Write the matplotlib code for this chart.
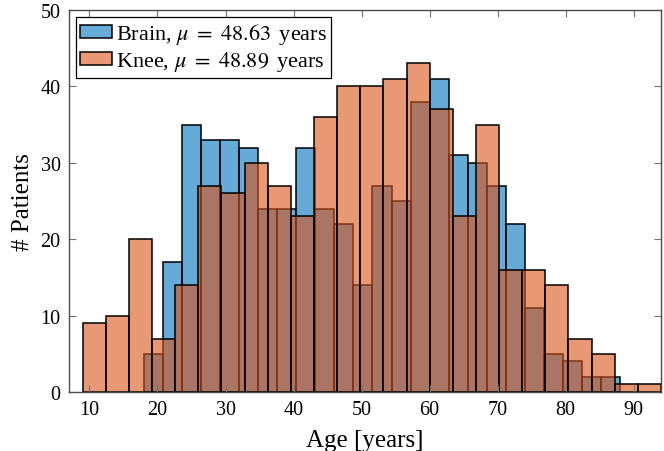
import numpy as np
import matplotlib.pyplot as plt

# histogram counts (25 bins each)
brain_range = (18, 88)
brain_counts = [5, 17, 35, 33, 33, 32, 24, 24, 32, 24, 22, 14, 27, 25, 38,
                41, 31, 30, 27, 22, 11, 5, 4, 2, 2]
knee_range = (9, 94)
knee_counts = [9, 10, 20, 7, 14, 27, 26, 30, 27, 23, 36, 40, 40, 41, 43,
               37, 23, 35, 16, 16, 14, 7, 5, 1, 1]
labels = [r"Brain, $\mu\ =\ 48.63\,$ years", r"Knee, $\mu\ =\ 48.89\,$ years"]

plt.rcParams["font.family"] = ["Liberation Serif", "DejaVu Serif"]
plt.rcParams["mathtext.fontset"] = "stix"

blue = (0.0, 0.447, 0.741, 0.6)
orange = (0.85, 0.325, 0.098, 0.6)

fig = plt.figure(figsize=(6.64, 4.52), dpi=100)
ax = fig.add_axes([69 / 664, 1 - 393 / 452, 592 / 664, 382 / 452])

for rng, counts, col, lab in [(brain_range, brain_counts, blue, labels[0]),
                              (knee_range, knee_counts, orange, labels[1])]:
    edges = np.linspace(rng[0], rng[1], len(counts) + 1)
    ax.hist(edges[:-1], bins=edges, weights=counts, facecolor=col,
            edgecolor="black", linewidth=1.1, label=lab)

ax.set_xlim(7, 94)
ax.set_ylim(0, 50)
ax.set_xticks(range(10, 100, 10))
ax.set_yticks(range(0, 60, 10))
ax.tick_params(direction="in", length=5, width=0.8, color="0.45",
               top=True, right=True, labelsize=14.5, pad=6)
for s in ax.spines.values():
    s.set_color("0.3")
    s.set_linewidth(1.0)

ax.set_xlabel("Age [years]", fontsize=18, labelpad=7)
ax.set_ylabel("# Patients", fontsize=18, labelpad=5)

leg = ax.legend(loc="upper left", fontsize=16, frameon=True, fancybox=False,
                edgecolor="black", framealpha=1, borderpad=0.2,
                handlelength=1.45, handleheight=0.5, handletextpad=0.15,
                labelspacing=0.15, borderaxespad=0.3)
leg.get_frame().set_linewidth(0.9)

fig.savefig("out.png", dpi=100)
